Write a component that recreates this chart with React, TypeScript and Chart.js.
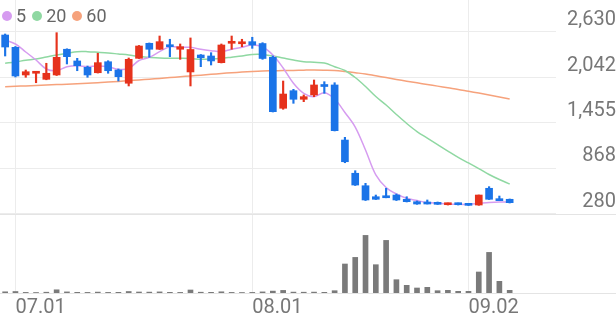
import React, { useEffect, useRef } from 'react';
import { Chart, registerables } from 'chart.js';

Chart.register(...registerables);

// ---- data ----
const OPEN = [2591, 2432, 2075, 2097, 2019, 2075, 2407, 2256, 2174, 2104, 2246, 2139, 1968, 2290, 2484, 2407, 2462, 2407, 2114, 2333, 2320, 2234, 2484, 2478, 2505, 2481, 2303, 1645, 1872, 1761, 1817, 1939, 1946, 1235, 806, 645, 503, 512, 525, 470, 439, 426, 431, 400, 418, 413, 396, 612, 470, 470];
const HIGH = [2604, 2443, 2139, 2113, 2226, 2621, 2413, 2290, 2191, 2355, 2259, 2152, 2294, 2456, 2488, 2578, 2536, 2475, 2553, 2339, 2363, 2475, 2578, 2536, 2562, 2492, 2320, 1997, 1890, 1817, 2010, 1988, 1975, 1270, 839, 676, 525, 612, 538, 503, 448, 461, 435, 422, 422, 416, 525, 633, 512, 474];
const LOW = [2320, 2049, 2045, 1975, 2013, 2068, 2217, 2130, 2045, 2100, 2097, 1997, 1933, 2288, 2303, 2404, 2311, 2277, 1933, 2182, 2204, 2230, 2407, 2440, 2419, 2277, 1597, 1632, 1709, 1730, 1795, 1838, 1352, 942, 648, 454, 467, 489, 454, 435, 405, 409, 403, 396, 396, 390, 392, 467, 452, 422];
const CLOSE = [2436, 2062, 2117, 2110, 2097, 2303, 2311, 2195, 2075, 2234, 2130, 2053, 2277, 2449, 2407, 2505, 2440, 2440, 2404, 2298, 2256, 2462, 2505, 2491, 2462, 2288, 1601, 1829, 1761, 1795, 1946, 1926, 1356, 955, 654, 461, 470, 490, 461, 439, 409, 409, 405, 418, 400, 392, 525, 470, 452, 426];
const VOLUME = [120, 150, 60, 50, 80, 320, 110, 70, 60, 90, 60, 70, 150, 100, 90, 110, 70, 60, 300, 80, 70, 120, 60, 50, 60, 110, 190, 260, 90, 80, 90, 70, 230, 2900, 3560, 5760, 2830, 5260, 1330, 770, 500, 570, 230, 270, 170, 170, 2100, 4060, 1170, 270];
const MA5 = [2527, 2475, 2372, 2268, 2152, 2130, 2182, 2195, 2182, 2191, 2182, 2148, 2159, 2262, 2303, 2376, 2440, 2432, 2432, 2407, 2389, 2376, 2407, 2432, 2462, 2436, 2333, 2165, 1968, 1838, 1795, 1846, 1765, 1591, 1403, 1106, 784, 622, 538, 483, 454, 428, 418, 409, 405, 405, 416, 428, 435, 435];
const MA20 = [2226, 2243, 2265, 2281, 2307, 2333, 2355, 2376, 2376, 2368, 2359, 2346, 2333, 2314, 2303, 2294, 2290, 2290, 2288, 2277, 2281, 2290, 2305, 2320, 2339, 2339, 2320, 2294, 2268, 2246, 2239, 2230, 2182, 2133, 2042, 1926, 1797, 1687, 1565, 1449, 1345, 1261, 1177, 1093, 1012, 939, 867, 790, 725, 667];
const MA60 = [1924, 1929, 1934, 1940, 1946, 1951, 1956, 1962, 1969, 1974, 1983, 1992, 2001, 2010, 2021, 2031, 2041, 2052, 2062, 2072, 2083, 2094, 2104, 2112, 2120, 2126, 2129, 2132, 2134, 2137, 2139, 2137, 2133, 2120, 2104, 2088, 2064, 2041, 2017, 1995, 1974, 1952, 1931, 1909, 1888, 1864, 1841, 1817, 1791, 1765];
const PRICE_TICKS = [280, 868, 1455, 2042, 2630];
const X_TICK_INDEX = [1, 24, 45];
const X_TICK_LABELS = ['07.01', '08.01', '09.02'];
const MA_LABELS = ['5', '20', '60'];

// ---- styles / layout ----
const UP = '#e6321c';
const DOWN = '#1b74e8';
const MA_COLORS = ['#d69cf0', '#8fd8a2', '#f6a27c'];
const VOL_COLOR = '#7a7a7a';
const GRID = '#ececec';
const TEXT = '#777777';
const PRICE_MIN = -740;
const PRICE_MAX = 3043;
const VOL_MAX = 29300;
const X_MIN = -0.5;
const X_MAX = 53.5;
const FONT = 'Roboto, "Noto Sans", sans-serif';

const dividerPlugin = {
  id: 'dividers',
  beforeDatasetsDraw(chart: any) {
    const { ctx, chartArea } = chart;
    const y = chart.scales.y.getPixelForValue(PRICE_TICKS[0]);
    ctx.save();
    ctx.strokeStyle = '#e4e4e4';
    ctx.lineWidth = 1;
    [y, chartArea.bottom].forEach((py: number) => {
      const yy = Math.round(py) + 0.5;
      ctx.beginPath();
      ctx.moveTo(0, yy);
      ctx.lineTo(chart.width, yy);
      ctx.stroke();
    });
    ctx.restore();
  },
};

export default function App() {
  const ref = useRef<HTMLCanvasElement>(null);

  useEffect(() => {
    const idx = OPEN.map((_, i) => i);
    const candleColors = idx.map((i) => (CLOSE[i] >= OPEN[i] ? UP : DOWN));
    const maSets = [MA5, MA20, MA60].map((arr, k) => ({
      type: 'line' as const,
      label: MA_LABELS[k],
      data: arr.map((v, i) => ({ x: i, y: v })),
      borderColor: MA_COLORS[k],
      borderWidth: 1.5,
      pointRadius: 0,
      tension: 0.35,
      yAxisID: 'y',
      order: 2 + k,
    }));

    const chart = new Chart(ref.current!, {
      type: 'bar',
      data: {
        datasets: [
          {
            type: 'bar',
            label: 'body',
            data: idx.map((i) => ({ x: i, y: [OPEN[i], CLOSE[i]] })) as any,
            backgroundColor: candleColors,
            barThickness: 7,
            minBarLength: 2,
            grouped: false,
            yAxisID: 'y',
            order: 0,
          },
          {
            type: 'bar',
            label: 'wick',
            data: idx.map((i) => ({ x: i, y: [LOW[i], HIGH[i]] })) as any,
            backgroundColor: candleColors,
            barThickness: 1.5,
            grouped: false,
            yAxisID: 'y',
            order: 1,
          },
          ...(maSets as any[]),
          {
            type: 'bar',
            label: 'volume',
            data: idx.map((i) => ({ x: i, y: VOLUME[i] })) as any,
            backgroundColor: VOL_COLOR,
            barThickness: 5,
            grouped: false,
            yAxisID: 'yv',
            order: 6,
          },
        ],
      },
      options: {
        responsive: false,
        animation: false,
        devicePixelRatio: 1,
        layout: { padding: 0 },
        plugins: { legend: { display: false }, tooltip: { enabled: false } },
        scales: {
          x: {
            type: 'linear',
            min: X_MIN,
            max: X_MAX,
            offset: false,
            position: 'bottom',
            grid: { color: GRID, drawTicks: false, offset: false },
            border: { display: false },
            afterBuildTicks: (scale: any) => {
              scale.ticks = X_TICK_INDEX.map((v) => ({ value: v }));
            },
            afterFit: (scale: any) => {
              scale.height = 28;
              scale.paddingLeft = 0;
              scale.paddingRight = 0;
            },
            ticks: {
              align: 'start',
              padding: 3,
              color: TEXT,
              font: { family: FONT, size: 20 },
              maxRotation: 0,
              autoSkip: false,
              callback: (v: any) => X_TICK_LABELS[X_TICK_INDEX.indexOf(Number(v))] ?? '',
            },
          },
          y: {
            type: 'linear',
            position: 'right',
            min: PRICE_MIN,
            max: PRICE_MAX,
            grid: { color: GRID, drawTicks: false },
            border: { display: false },
            afterBuildTicks: (scale: any) => {
              scale.ticks = PRICE_TICKS.map((v) => ({ value: v }));
            },
            afterFit: (scale: any) => {
              scale.width = 60;
              scale.paddingTop = 0;
              scale.paddingBottom = 0;
            },
            ticks: {
              crossAlign: 'far',
              padding: 7,
              labelOffset: -12,
              color: TEXT,
              font: { family: FONT, size: 20 },
              callback: (v: any) => Number(v).toLocaleString('en-US'),
            },
          },
          yv: {
            type: 'linear',
            display: false,
            min: 0,
            max: VOL_MAX,
          },
        },
      } as any,
      plugins: [dividerPlugin],
    });
    return () => chart.destroy();
  }, []);

  return (
    <div style={{ position: 'absolute', left: 0, top: 0, width: 616, height: 321, background: '#fff' }}>
      <canvas ref={ref} width={616} height={321} style={{ display: 'block' }} />
      <div
        style={{
          position: 'absolute',
          left: 2,
          top: 4,
          display: 'flex',
          alignItems: 'center',
          fontFamily: FONT,
          fontSize: 18,
          color: '#666',
          lineHeight: '24px',
        }}
      >
        {MA_LABELS.map((l, k) => (
          <span key={l} style={{ display: 'flex', alignItems: 'center', marginRight: 6 }}>
            <span
              style={{
                width: 10,
                height: 10,
                borderRadius: 5,
                background: MA_COLORS[k],
                display: 'inline-block',
                marginRight: 4,
              }}
            />
            <span>{l}</span>
          </span>
        ))}
      </div>
    </div>
  );
}
